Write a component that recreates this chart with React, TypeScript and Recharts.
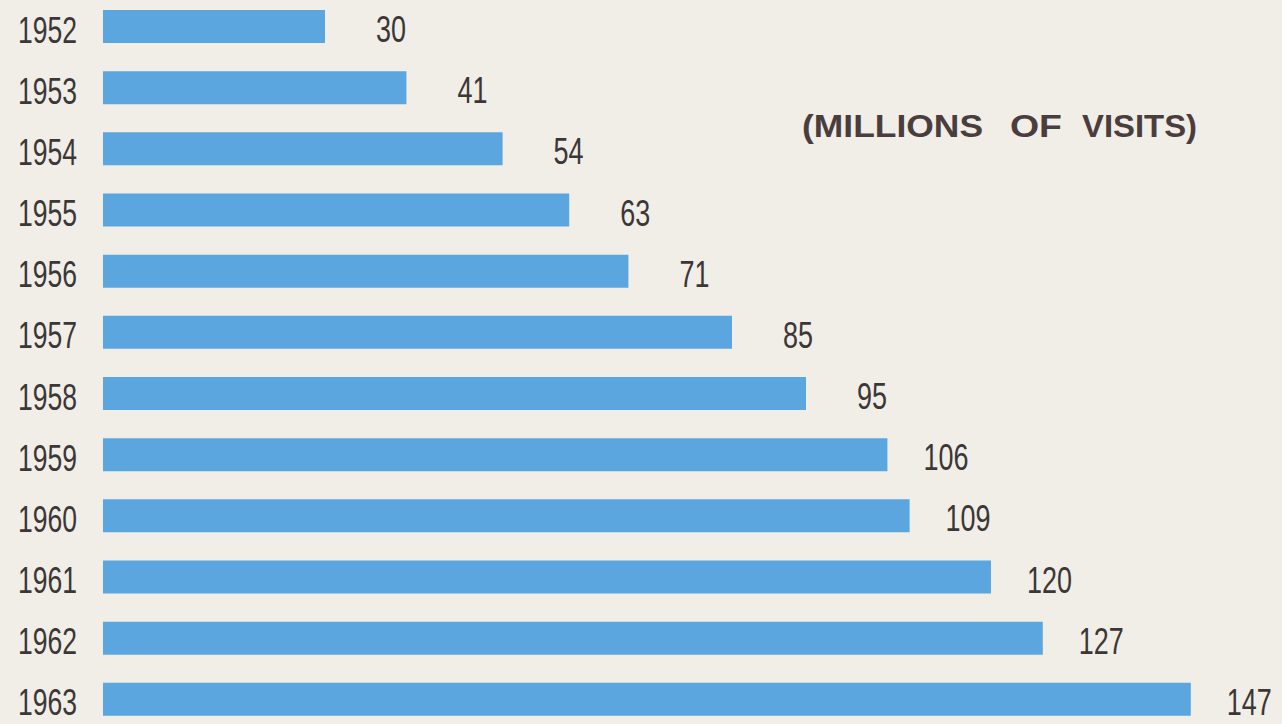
import { BarChart, Bar, XAxis, YAxis, LabelList } from "recharts";

const years = ["1952", "1953", "1954", "1955", "1956", "1957", "1958", "1959", "1960", "1961", "1962", "1963"];
const visits = [30, 41, 54, 63, 71, 85, 95, 106, 109, 120, 127, 147];
const titleWords = ["(MILLIONS", "OF", "VISITS)"];

const data = years.map((year, i) => ({ year, visits: visits[i] }));

const BG = "#f1eee7";
const BAR = "#5ba6df";
const INK = "#3b3737";
const FONT = "'Liberation Sans Narrow', 'Liberation Sans', sans-serif";

const titleX = [802, 1010, 1082];
const titleW = [181, 52, 115];

const YearTick = (props: any) => {
  const { x, y, payload } = props;
  const s = String(payload.value);
  return (
    <text
      x={x}
      y={y + 16}
      textAnchor="end"
      fill={INK}
      fontFamily={FONT}
      fontSize={37}
      textLength={s.length * 14.75}
      lengthAdjust="spacingAndGlyphs"
    >
      {s}
    </text>
  );
};

const ValueLabel = (props: any) => {
  const { x, y, width, height, value } = props;
  const s = String(value);
  return (
    <text
      x={x + width + 81}
      y={y + height - 1}
      textAnchor="end"
      fill={INK}
      fontFamily={FONT}
      fontSize={36}
      textLength={s.length * 15}
      lengthAdjust="spacingAndGlyphs"
    >
      {s}
    </text>
  );
};

export default function App() {
  return (
    <div style={{ position: "absolute", left: 0, top: 0, width: 1282, height: 724, background: BG, overflow: "hidden" }}>
      <div style={{ position: "absolute", left: 0, top: -4 }}>
        <BarChart
          width={1282}
          height={734}
          data={data}
          layout="vertical"
          margin={{ top: 0, right: 69, bottom: 0, left: 0 }}
        >
          <XAxis type="number" domain={[0, 150]} hide />
          <YAxis
            type="category"
            dataKey="year"
            width={103}
            axisLine={false}
            tickLine={false}
            tickSize={0}
            tickMargin={26}
            tick={<YearTick />}
            interval={0}
          />
          <Bar dataKey="visits" fill={BAR} barSize={33} isAnimationActive={false}>
            <LabelList dataKey="visits" content={<ValueLabel />} />
          </Bar>
        </BarChart>
      </div>
      <svg width={1282} height={724} style={{ position: "absolute", left: 0, top: 0, pointerEvents: "none" }}>
        {titleWords.map((w, i) => (
          <text
            key={w}
            x={titleX[i]}
            y={137}
            fill="#4a3d3d"
            fontFamily="'Liberation Sans', Arial, sans-serif"
            fontWeight="bold"
            fontSize={31}
            textLength={titleW[i]}
            lengthAdjust="spacingAndGlyphs"
          >
            {w}
          </text>
        ))}
      </svg>
    </div>
  );
}
